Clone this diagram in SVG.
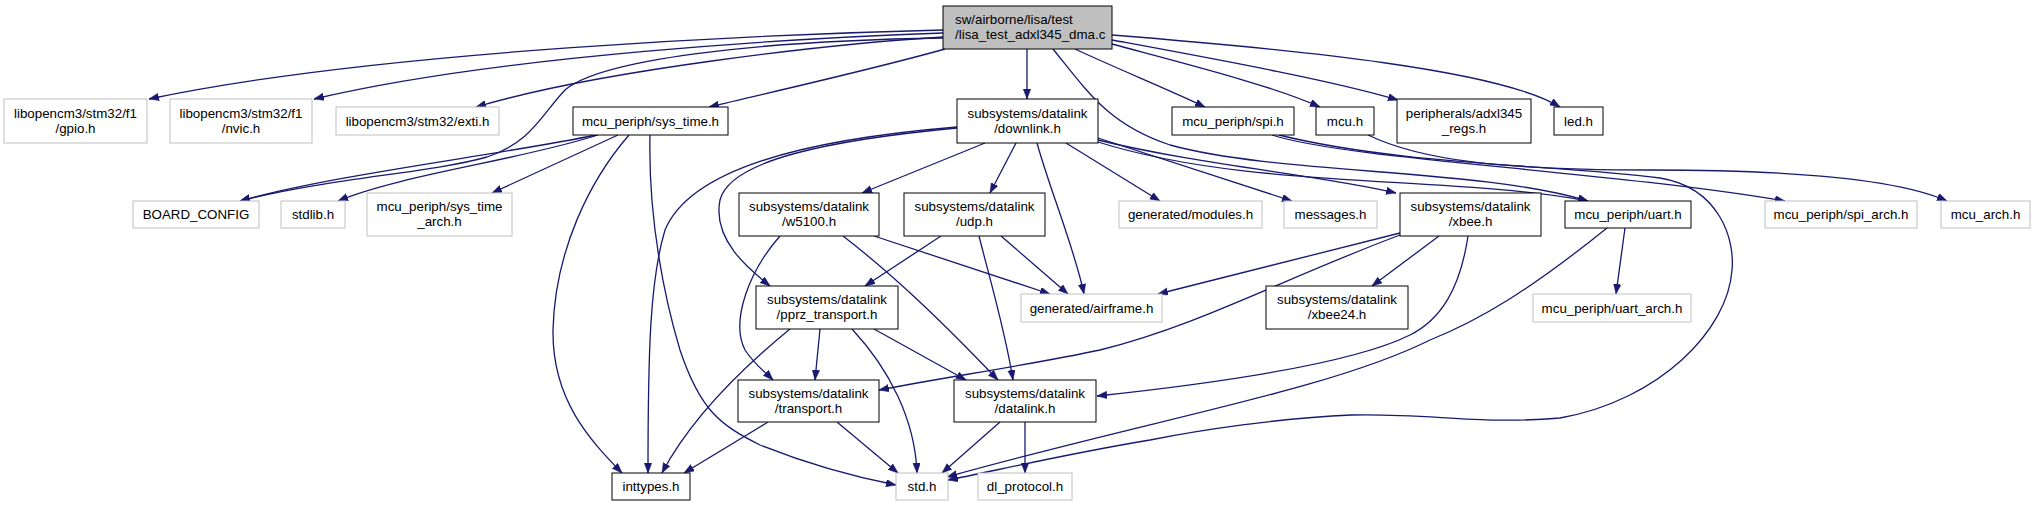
<svg xmlns="http://www.w3.org/2000/svg" width="2035" height="507" viewBox="0 0 2035 507">
<style>
rect{stroke-width:1}
.g rect{fill:#fff;stroke:#bfbfbf}
.b rect{fill:#fff;stroke:#000}
.m rect{fill:#bfbfbf;stroke:#000}
text{font-family:"Liberation Sans",Arial,Helvetica,sans-serif;font-size:13.33px;fill:#000;text-anchor:middle}
.m text{text-anchor:start}
#edges path{fill:none;stroke:#191970;stroke-width:1.3;marker-end:url(#ah)}
</style>
<defs>
<marker id="ah" markerUnits="userSpaceOnUse" markerWidth="11" markerHeight="8" refX="10" refY="3.75" orient="auto">
<path d="M0,0 L10,3.75 L0,7.5 z" fill="#191970" stroke="#191970" stroke-width="0.5"/>
</marker>
</defs>
<rect width="2035" height="507" fill="#fff"/>
<g id="edges">
<path d="M943,30 C780,34 380,50 149,99"/>
<path d="M943,33 C800,38 500,55 314,99"/>
<path d="M943,37 C830,44 600,70 476,107"/>
<path d="M945,49 C870,70 780,90 709,107"/>
<path d="M943,38 C750,41 600,60 565,90 C542,114 532,142 487,157 C430,173 330,178 240,201"/>
<path d="M1027,49 L1027,99"/>
<path d="M1053,49 C1090,95 1110,125 1170,145 C1280,175 1480,168 1588,201"/>
<path d="M1075,49 C1120,70 1170,90 1205,107"/>
<path d="M1112,44 C1190,65 1270,85 1320,107"/>
<path d="M1112,40 C1220,60 1330,80 1398,100"/>
<path d="M1112,35 C1300,50 1500,70 1560,107"/>
<path d="M596,135 C500,155 330,175 240,201"/>
<path d="M598,135 C520,160 400,175 338,201"/>
<path d="M618,135 L492,193"/>
<path d="M629,135 C590,180 555,250 553,330 C552,400 590,440 622,473"/>
<path d="M650,135 C648,220 665,300 680,350 C700,410 720,425 760,445 C810,465 860,478 896,485"/>
<path d="M985,143 L862,193"/>
<path d="M1016,143 L990,193"/>
<path d="M957,128 C830,140 730,160 720,200 C712,240 750,270 770,286"/>
<path d="M957,127 C800,140 690,170 665,230 C650,280 648,350 648,473"/>
<path d="M1037,143 C1050,190 1075,250 1084,294"/>
<path d="M1066,143 L1160,201"/>
<path d="M1098,138 L1292,201"/>
<path d="M1098,140 C1200,165 1320,175 1396,193"/>
<path d="M1098,142 C1250,190 1450,175 1588,201"/>
<path d="M780,236 C750,270 730,320 745,350 C755,365 765,372 773,380"/>
<path d="M843,236 C900,280 950,330 998,380"/>
<path d="M874,236 L1050,294"/>
<path d="M941,236 L865,286"/>
<path d="M979,236 C990,280 1005,330 1013,380"/>
<path d="M1001,236 L1068,294"/>
<path d="M820,329 L815,380"/>
<path d="M790,329 C740,370 690,420 662,473"/>
<path d="M852,329 C890,370 915,420 917,473"/>
<path d="M874,329 L966,380"/>
<path d="M1400,233 L1158,294"/>
<path d="M1400,235 C1280,280 1200,325 1100,350 C1030,365 940,378 879,390"/>
<path d="M1439,236 L1372,286"/>
<path d="M1468,236 C1460,290 1440,320 1410,335 C1350,365 1200,385 1097,396"/>
<path d="M1625,228 L1616,294"/>
<path d="M1607,228 C1530,290 1480,320 1430,340 C1330,390 1150,420 947,477"/>
<path d="M1279,135 C1400,165 1560,165 1660,178 C1720,188 1735,240 1732,270 C1728,330 1660,400 1560,418 C1480,425 1430,413 1351,415 C1280,418 1200,430 1150,440 C1060,455 990,472 948,480"/>
<path d="M1368,135 C1420,160 1500,170 1650,170 C1800,170 1900,180 1947,201"/>
<path d="M1272,135 C1350,160 1600,170 1785,201"/>
<path d="M1000,422 L942,473"/>
<path d="M1025,422 L1025,473"/>
<path d="M768,422 L684,473"/>
<path d="M837,422 L898,473"/>
</g>
<g id="main" class="m"><rect x="943" y="6" width="169" height="43"/><text x="955" y="24">sw/airborne/lisa/test</text><text x="955" y="39">/lisa_test_adxl345_dma.c</text></g>
<g id="gpio" class="g"><rect x="4" y="99" width="143" height="44"/><text x="75.5" y="117.5">libopencm3/stm32/f1</text><text x="75.5" y="132.5">/gpio.h</text></g>
<g id="nvic" class="g"><rect x="170" y="99" width="142" height="44"/><text x="241" y="117.5">libopencm3/stm32/f1</text><text x="241" y="132.5">/nvic.h</text></g>
<g id="exti" class="g"><rect x="336" y="107" width="163" height="28"/><text x="417.5" y="125.5">libopencm3/stm32/exti.h</text></g>
<g id="sys_time" class="b"><rect x="573" y="107" width="155" height="28"/><text x="650.5" y="125.5">mcu_periph/sys_time.h</text></g>
<g id="downlink" class="b"><rect x="957" y="99" width="141" height="44"/><text x="1027.5" y="117.5">subsystems/datalink</text><text x="1027.5" y="132.5">/downlink.h</text></g>
<g id="spi" class="b"><rect x="1172" y="107" width="122" height="28"/><text x="1233" y="125.5">mcu_periph/spi.h</text></g>
<g id="mcu" class="b"><rect x="1316" y="107" width="58" height="28"/><text x="1345" y="125.5">mcu.h</text></g>
<g id="adxl345_regs" class="b"><rect x="1397" y="99" width="134" height="44"/><text x="1464" y="117.5">peripherals/adxl345</text><text x="1464" y="132.5">_regs.h</text></g>
<g id="led" class="b"><rect x="1554" y="107" width="49" height="28"/><text x="1578.5" y="125.5">led.h</text></g>
<g id="board_config" class="g"><rect x="133" y="201" width="126" height="27"/><text x="196" y="219">BOARD_CONFIG</text></g>
<g id="stdlib" class="g"><rect x="281" y="201" width="64" height="27"/><text x="313" y="219">stdlib.h</text></g>
<g id="sys_time_arch" class="g"><rect x="367" y="193" width="145" height="43"/><text x="439.5" y="211">mcu_periph/sys_time</text><text x="439.5" y="226">_arch.h</text></g>
<g id="w5100" class="b"><rect x="739" y="193" width="140" height="43"/><text x="809" y="211">subsystems/datalink</text><text x="809" y="226">/w5100.h</text></g>
<g id="udp" class="b"><rect x="904" y="193" width="141" height="43"/><text x="974.5" y="211">subsystems/datalink</text><text x="974.5" y="226">/udp.h</text></g>
<g id="modules" class="g"><rect x="1119" y="201" width="143" height="27"/><text x="1190.5" y="219">generated/modules.h</text></g>
<g id="messages" class="g"><rect x="1284" y="201" width="93" height="27"/><text x="1330.5" y="219">messages.h</text></g>
<g id="xbee" class="b"><rect x="1400" y="193" width="141" height="43"/><text x="1470.5" y="211">subsystems/datalink</text><text x="1470.5" y="226">/xbee.h</text></g>
<g id="uart" class="b"><rect x="1565" y="201" width="126" height="27"/><text x="1628" y="219">mcu_periph/uart.h</text></g>
<g id="spi_arch" class="g"><rect x="1765" y="201" width="152" height="27"/><text x="1841" y="219">mcu_periph/spi_arch.h</text></g>
<g id="mcu_arch" class="g"><rect x="1941" y="201" width="89" height="27"/><text x="1985.5" y="219">mcu_arch.h</text></g>
<g id="pprz_transport" class="b"><rect x="756" y="286" width="142" height="43"/><text x="827" y="304">subsystems/datalink</text><text x="827" y="319">/pprz_transport.h</text></g>
<g id="airframe" class="g"><rect x="1021" y="294" width="141" height="28"/><text x="1091.5" y="312.5">generated/airframe.h</text></g>
<g id="xbee24" class="b"><rect x="1266" y="286" width="142" height="43"/><text x="1337" y="304">subsystems/datalink</text><text x="1337" y="319">/xbee24.h</text></g>
<g id="uart_arch" class="g"><rect x="1533" y="294" width="158" height="28"/><text x="1612" y="312.5">mcu_periph/uart_arch.h</text></g>
<g id="transport" class="b"><rect x="738" y="380" width="141" height="42"/><text x="808.5" y="397.5">subsystems/datalink</text><text x="808.5" y="412.5">/transport.h</text></g>
<g id="datalink" class="b"><rect x="954" y="380" width="142" height="42"/><text x="1025" y="397.5">subsystems/datalink</text><text x="1025" y="412.5">/datalink.h</text></g>
<g id="inttypes" class="b"><rect x="612" y="473" width="78" height="27"/><text x="651" y="491">inttypes.h</text></g>
<g id="std" class="g"><rect x="896" y="473" width="52" height="27"/><text x="922" y="491">std.h</text></g>
<g id="dl_protocol" class="g"><rect x="978" y="473" width="94" height="27"/><text x="1025" y="491">dl_protocol.h</text></g>
</svg>
